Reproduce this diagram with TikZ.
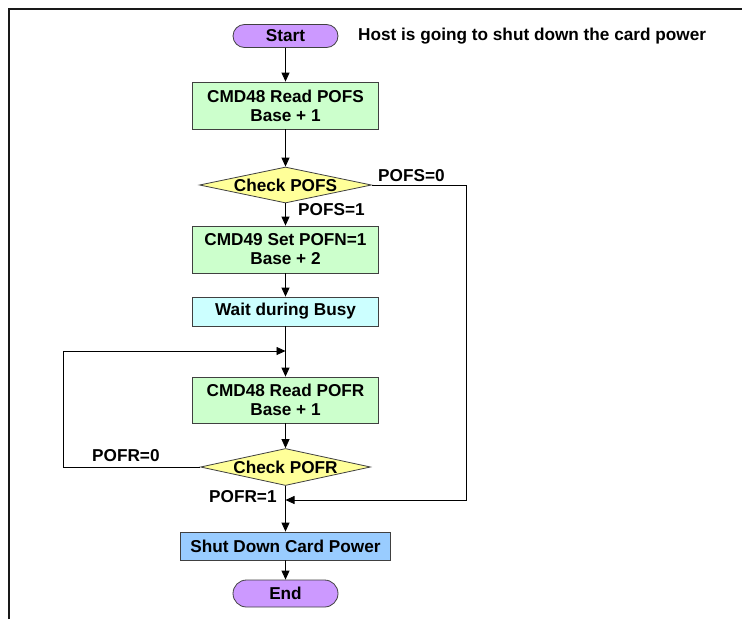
\documentclass[tikz,border=0pt]{standalone}
\usepackage{fontspec}
\setmainfont{Liberation Sans}
\usetikzlibrary{arrows.meta,shapes.geometric,shapes.misc}
\definecolor{termc}{HTML}{CC99FF}
\definecolor{procc}{HTML}{CCFFCC}
\definecolor{decc}{HTML}{FFFF99}
\definecolor{waitc}{HTML}{CCFFFF}
\definecolor{shutc}{HTML}{99CCFF}
\begin{document}
\begin{tikzpicture}[x=1pt,y=-1pt,
  txt/.style={font=\fontsize{17.2}{19}\selectfont\bfseries, inner sep=0pt},
  base/.style={txt, draw=black!75, line width=0.8pt, align=center},
  proc/.style={base, rectangle, minimum width=186pt, minimum height=47pt, fill=procc},
  term/.style={base, rounded rectangle, minimum width=105pt, minimum height=23pt, fill=termc},
  dec/.style={base, diamond, shape aspect=4.8, minimum width=172pt, minimum height=36pt, fill=decc},
  conn/.style={line width=0.8pt, -{Triangle[length=9pt,width=8pt]}},
  plain/.style={line width=0.8pt}]
\useasboundingbox (0,0) rectangle (742,619);
\draw[line width=2pt, black!90] (9,619) -- (9,9) -- (742,9);

\node[term] (start) at (285.5,36) {Start};
\node[txt, anchor=west] (host) at (358,36) {Host is going to shut down the card power};
\node[proc] (r1) at (285.5,105.5) {CMD48 Read POFS\\Base + 1};
\node[dec] (c1) at (285.5,185) {Check POFS};
\node[proc] (r2) at (285.5,249.5) {CMD49 Set POFN=1\\Base + 2};
\node[base, rectangle, minimum width=186pt, minimum height=29pt, fill=waitc] (wait) at (285.5,311.5) {Wait during Busy};
\node[proc, minimum height=46pt] (r3) at (285.5,400) {CMD48 Read POFR\\Base + 1};
\node[dec, minimum width=170pt, minimum height=37pt] (c2) at (285.5,467) {Check POFR};
\node[base, rectangle, minimum width=210pt, minimum height=28pt, fill=shutc] (shut) at (285.5,546) {Shut Down Card Power};
\node[term, minimum height=27pt] (end) at (285.5,593.5) {End};

\node[txt, anchor=west] (l0) at (378,176) {POFS=0};
\node[txt, anchor=west] (l1) at (298,210) {POFS=1};
\node[txt, anchor=west] (l2) at (92,456) {POFR=0};
\node[txt, anchor=west] (l3) at (209,497) {POFR=1};

\coordinate (loopin) at (285.5,351);
\coordinate (loopl) at (63,351);
\coordinate (loopb) at (63,467);
\coordinate (join) at (285.5,500);
\coordinate (rt) at (466,185);
\coordinate (rb) at (466,500);

\draw[conn] (start) -- (r1);
\draw[conn] (r1) -- (c1);
\draw[conn] (c1) -- (r2);
\draw[conn] (r2) -- (wait);
\draw[conn] (wait) -- (r3);
\draw[conn] (r3) -- (c2);
\draw[conn] (c2) -- (shut);
\draw[conn] (shut) -- (end);
\draw[conn] (c2.west) -- (loopb) -- (loopl) -- (loopin);
\draw[conn] (c1.east) -- (rt) -- (rb) -- (join);
\end{tikzpicture}
\end{document}
